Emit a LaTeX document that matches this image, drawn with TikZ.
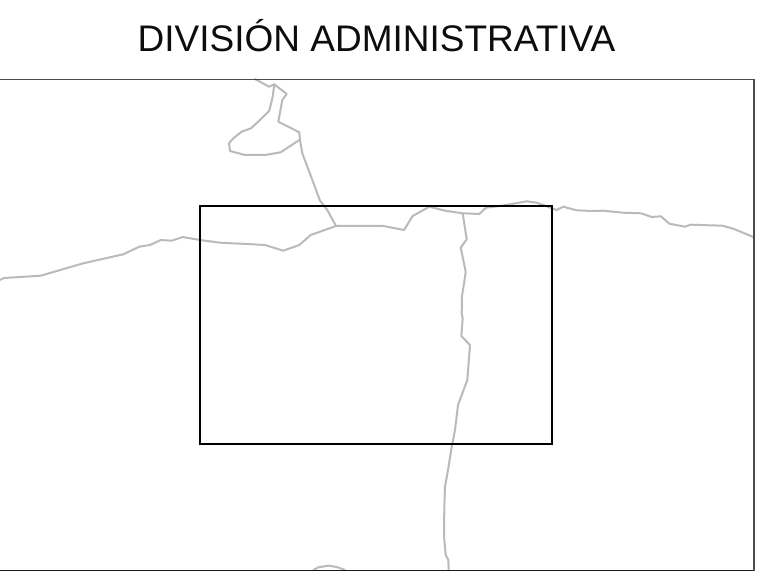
\documentclass[tikz,border=0pt]{standalone}
\usepackage{fontspec}
\setmainfont{Liberation Sans}
\tikzset{
  road/.style={draw=black!27,line width=2pt,line join=round,line cap=round},
  frame/.style={draw=black!70,line width=1.1pt},
  framedark/.style={draw=black!90,line width=1.1pt},
  inset/.style={draw=black,line width=1.8pt,line join=miter},
  heading/.style={font=\fontsize{37}{44}\selectfont,text=black!95,inner sep=0pt,anchor=base}
}
\begin{document}
\begin{tikzpicture}[x=1pt,y=-1pt]
\useasboundingbox (0,0) rectangle (763,585);
\fill[white] (0,0) rectangle (763,585);
\begin{scope}
\clip (0,79) rectangle (754,570.5);
\path[road] (255,79) -- (269,86.7) -- (274.3,84.3) -- (286.7,94) -- (282.3,100) -- (278.3,121.7) -- (299.3,132.3) -- (300,140) -- (302.3,153.3) -- (311.7,178.3) -- (320,200.7) -- (327.3,210) -- (336,226);
\path[road] (274.3,84.3) -- (272.7,96.7) -- (269.3,110.7) -- (260,120) -- (251,128.3) -- (241.7,131.7) -- (233.3,138.3) -- (229,143.3) -- (230,151) -- (245,155) -- (265,155) -- (280.7,152.3) -- (299.3,140);
\path[road] (0,280) -- (4,278) -- (40.7,275.7) -- (83.3,263.3) -- (123.3,254.3) -- (139.3,246.7) -- (150,245) -- (161,240) -- (171.7,240.7) -- (182.7,237) -- (200,240) -- (220,242.7) -- (246.7,244) -- (265,245) -- (283.3,250.7) -- (299.3,245) -- (310.7,235) -- (336,226) -- (383.3,226) -- (404,230) -- (412.7,216) -- (429.3,206.7) -- (445,210.7) -- (462.7,213.3) -- (479.3,214) -- (486,207.7) -- (500,206) -- (526.7,201.3) -- (536.7,202.7) -- (556.7,210) -- (563.3,206.7) -- (576.7,210.3) -- (591.7,211) -- (603,210.7) -- (623,212.7) -- (641,213.3) -- (651.7,217) -- (661,216.3) -- (669.3,223.7) -- (685,226.7) -- (690.7,224.7) -- (722.3,225.7) -- (733.3,228.7) -- (754,237.3);
\path[road] (462.7,213.3) -- (466.7,239.3) -- (460.7,247.7) -- (465.7,271.7) -- (465,277.3) -- (462,296) -- (461.7,313.3) -- (462.7,318.3) -- (461.3,336) -- (470,345) -- (467.3,380) -- (458,405) -- (455,430) -- (451.7,446.7) -- (448.3,468.3) -- (445,486.7) -- (444.3,508.3) -- (444,536.7) -- (445.7,555) -- (448.3,560) -- (448.7,570);
\path[road] (313.3,570) -- (318.3,567.3) -- (328.3,565.7) -- (336.7,567) -- (345,570);
\end{scope}
\draw[framedark] (-1,570.3) -- (754,570.3);
\draw[frame] (-1,79.3) -- (754,79.3) -- (754,570.8);
\draw[inset] (200,205.7) rectangle (551.7,444);
\node[heading] (title) at (376.5,52) {DIVISIÓN ADMINISTRATIVA};
\end{tikzpicture}
\end{document}
